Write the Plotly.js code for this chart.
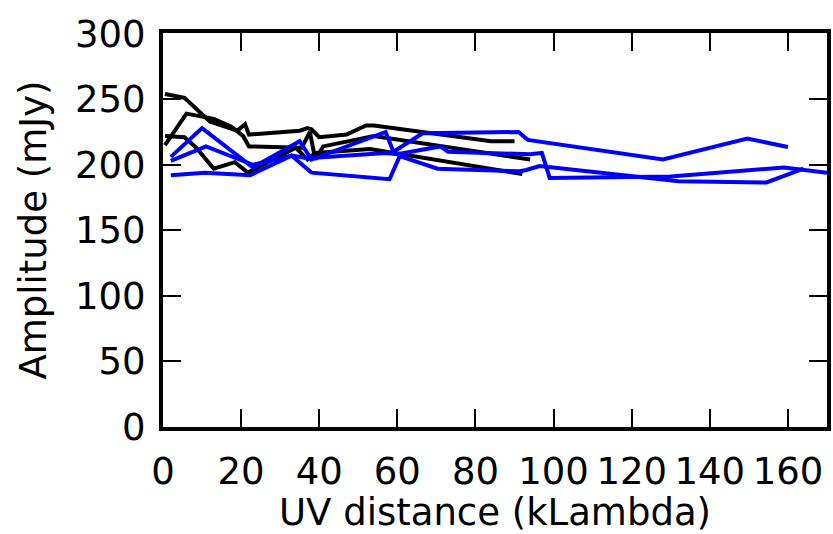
<!DOCTYPE html>
<html>
<head>
<meta charset="utf-8">
<script src="https://cdn.plot.ly/plotly-3.0.1.min.js"></script>
<style>html,body{margin:0;padding:0;background:#fff;}#chart{width:833px;height:534px;}</style>
</head>
<body>
<div id="chart"></div>
<script>
// Black series (UV distance in kLambda, amplitude in mJy)
const black1_x = [0.5, 5.5, 12, 17, 19, 21, 22, 35, 37, 38, 40, 47, 52, 54, 84, 90];
const black1_y = [254, 251, 233, 228, 226, 231, 223, 226, 228, 227, 221, 223, 230, 230, 218, 218];
const black2_x = [0.5, 6, 13, 17.5, 20.5, 22, 35.5, 37.6, 39, 41, 54, 94];
const black2_y = [215, 239, 235, 229, 222, 214, 213, 225, 204, 214, 222, 204];
const black3_x = [0.5, 5.5, 8.5, 13, 18.4, 21.7, 34, 37, 39, 53, 92];
const black3_y = [222, 221, 213, 197, 202, 194, 213, 204, 209, 212, 193];
// Blue series
const blue1_x = [2, 10, 23, 35, 38, 57, 59, 66.5, 91, 93.4, 128, 149.6, 160];
const blue1_y = [206, 228, 198, 218, 204, 225, 210, 224, 225, 219, 204, 220, 213.5];
const blue2_x = [2, 11, 23, 33, 37, 57, 60, 71, 73, 94, 97, 99, 130, 159, 170];
const blue2_y = [203, 214, 200, 207, 205, 209, 208, 214, 210, 208, 209, 190, 191, 198, 194];
const blue3_x = [2, 10.7, 22.3, 32.9, 38, 56.8, 58, 60.6, 70.3, 91.3, 93, 96.4, 132, 154.5, 164];
const blue3_y = [192, 194, 192, 207, 194, 190, 189, 206.6, 197, 195, 196, 199, 187.5, 186.5, 197];

const xTicks = [0, 20, 40, 60, 80, 100, 120, 140, 160];
const yTicks = [0, 50, 100, 150, 200, 250, 300];

const series = [
  [black1_x, black1_y, '#000000'],
  [black2_x, black2_y, '#000000'],
  [black3_x, black3_y, '#000000'],
  [blue1_x, blue1_y, '#0000ff'],
  [blue2_x, blue2_y, '#0000ff'],
  [blue3_x, blue3_y, '#0000ff']
];
const traces = series.map(s => ({
  x: s[0], y: s[1], type: 'scatter', mode: 'lines',
  line: {color: s[2], width: 4}, hoverinfo: 'skip', showlegend: false
}));

const font = {family: 'DejaVu Sans, sans-serif', size: 37, color: '#000'};
const layout = {
  width: 833, height: 534,
  margin: {l: 163, r: 6, t: 33, b: 107},
  paper_bgcolor: '#fff', plot_bgcolor: '#fff',
  showlegend: false,
  font: font,
  xaxis: {
    range: [0, 170], tickvals: xTicks, ticktext: xTicks.map(String),
    ticks: 'inside', ticklen: 18, tickwidth: 2, tickcolor: '#000',
    showline: true, linewidth: 4, linecolor: '#000', mirror: 'ticks',
    showgrid: false, zeroline: false, automargin: false,
    tickfont: font, ticklabelstandoff: 9,
    title: {text: 'UV distance (kLambda)', font: font, standoff: 10}
  },
  yaxis: {
    range: [0, 300.5], tickvals: yTicks, ticktext: yTicks.map(String),
    ticks: 'inside', ticklen: 18, tickwidth: 2, tickcolor: '#000',
    showline: true, linewidth: 4, linecolor: '#000', mirror: 'ticks',
    showgrid: false, zeroline: false, automargin: false,
    tickfont: font, ticklabelstandoff: 6,
    title: {text: 'Amplitude (mJy)', font: font, standoff: 18}
  }
};
Plotly.newPlot('chart', traces, layout, {displayModeBar: false, staticPlot: true});
</script>
</body>
</html>
